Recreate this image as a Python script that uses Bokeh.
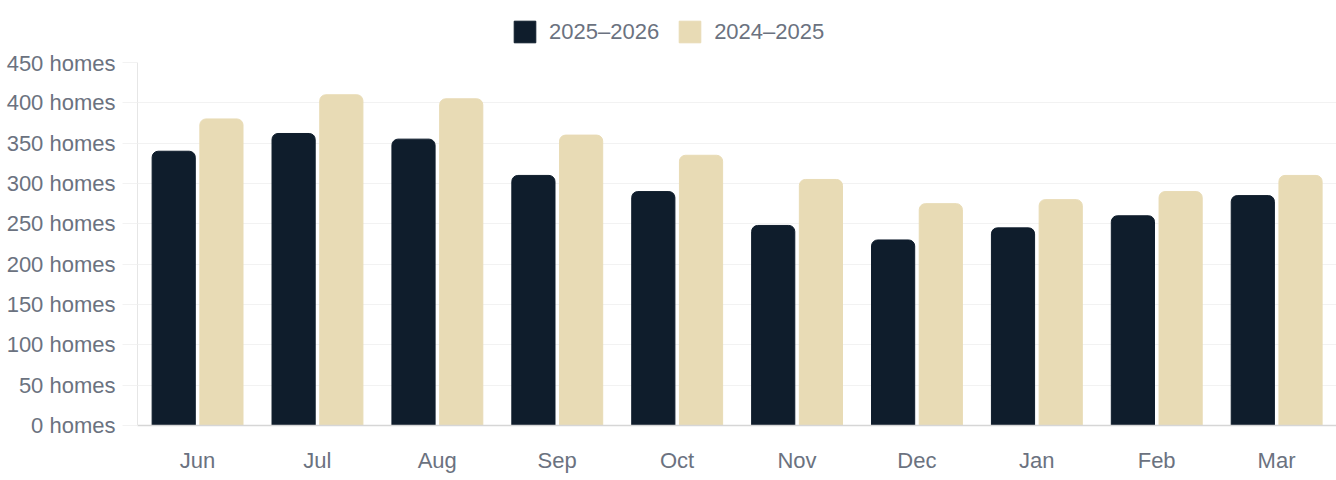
from bokeh.plotting import figure
from bokeh.layouts import column
from bokeh.models import (FactorRange, Range1d, FixedTicker, PrintfTickFormatter,
                          Legend, LegendItem, ColumnDataSource)
from bokeh.transform import dodge
from bokeh.embed import file_html
from bokeh.resources import INLINE

months = ["Jun", "Jul", "Aug", "Sep", "Oct", "Nov", "Dec", "Jan", "Feb", "Mar"]
homes_2025_2026 = [340, 362, 355, 310, 290, 248, 230, 245, 260, 285]
homes_2024_2025 = [380, 410, 405, 360, 335, 305, 275, 280, 290, 310]
series_labels = ["2025–2026", "2024–2025"]
y_ticks = [0, 50, 100, 150, 200, 250, 300, 350, 400, 450]

DARK = "#0F1D2C"
TAN = "#E8DBB5"
TEXT = "#6B7280"
FONT = "Liberation Sans"

source = ColumnDataSource(dict(month=months, cur=homes_2025_2026, prev=homes_2024_2025))

# ---- legend strip on top ----
lg = figure(width=1336, height=50, output_backend="svg", toolbar_location=None,
            x_range=Range1d(0, 1), y_range=Range1d(0, 1),
            min_border_left=0, min_border_right=0, min_border_top=0, min_border_bottom=0)
lg.axis.visible = False
lg.grid.visible = False
lg.outline_line_color = None
lg.border_fill_color = "white"
# swatch renderers placed outside the visible range; they only feed the legend
swatch = ColumnDataSource(dict(x=[-10.0], top=[-10.0]))
d1 = lg.vbar(x="x", top="top", width=0.1, source=swatch, fill_color=DARK, line_color=DARK)
d2 = lg.vbar(x="x", top="top", width=0.1, source=swatch, fill_color=TAN, line_color=TAN)
legend = Legend(items=[LegendItem(label=series_labels[0], renderers=[d1]),
                       LegendItem(label=series_labels[1], renderers=[d2])],
                orientation="horizontal", location=(374, 5),
                padding=0, margin=0, spacing=17,
                glyph_width=27, glyph_height=27, label_standoff=11,
                label_text_font=FONT, label_text_font_size="22px",
                label_text_color=TEXT, border_line_color=None,
                background_fill_alpha=0)
lg.add_layout(legend, "center")

# ---- main chart ----
p = figure(width=1336, height=430, output_backend="svg", toolbar_location=None,
           x_range=FactorRange(factors=months, range_padding=0),
           y_range=Range1d(0, 450),
           min_border_left=137, min_border_right=0, min_border_top=12, min_border_bottom=55)
p.outline_line_color = None
p.background_fill_color = "white"
p.border_fill_color = "white"

p.vbar(x=dodge("month", -0.198, range=p.x_range), top="cur", width=0.36, source=source,
       fill_color=DARK, line_color=DARK, line_width=1, border_radius=(6, 6, 0, 0))
p.vbar(x=dodge("month", 0.2, range=p.x_range), top="prev", width=0.36, source=source,
       fill_color=TAN, line_color=TAN, line_width=1, border_radius=(6, 6, 0, 0))

# grid
p.xgrid.grid_line_color = None
p.ygrid.grid_line_color = "#F2F2F2"
p.ygrid.grid_line_width = 1
p.yaxis.ticker = FixedTicker(ticks=y_ticks)
p.yaxis.formatter = PrintfTickFormatter(format="%d homes")

# y axis
p.yaxis.axis_line_color = "#E6E6E6"
p.yaxis.major_tick_line_color = "#F2F2F2"
p.yaxis.major_tick_out = 15
p.yaxis.major_tick_in = 0
p.yaxis.minor_tick_line_color = None
p.yaxis.major_label_standoff = 7
p.yaxis.major_label_text_font = FONT
p.yaxis.major_label_text_font_size = "22px"
p.yaxis.major_label_text_color = TEXT

# x axis
p.xaxis.axis_line_color = "#D6D6D6"
p.xaxis.axis_line_width = 1.5
p.xaxis.major_tick_line_color = None
p.xaxis.major_tick_out = 0
p.xaxis.major_tick_in = 0
p.xaxis.minor_tick_line_color = None
p.xaxis.major_label_standoff = 22
p.xaxis.major_label_text_font = FONT
p.xaxis.major_label_text_font_size = "22px"
p.xaxis.major_label_text_color = TEXT

layout = column(lg, p, spacing=0)
open("out.html", "w").write(file_html(layout, INLINE))
